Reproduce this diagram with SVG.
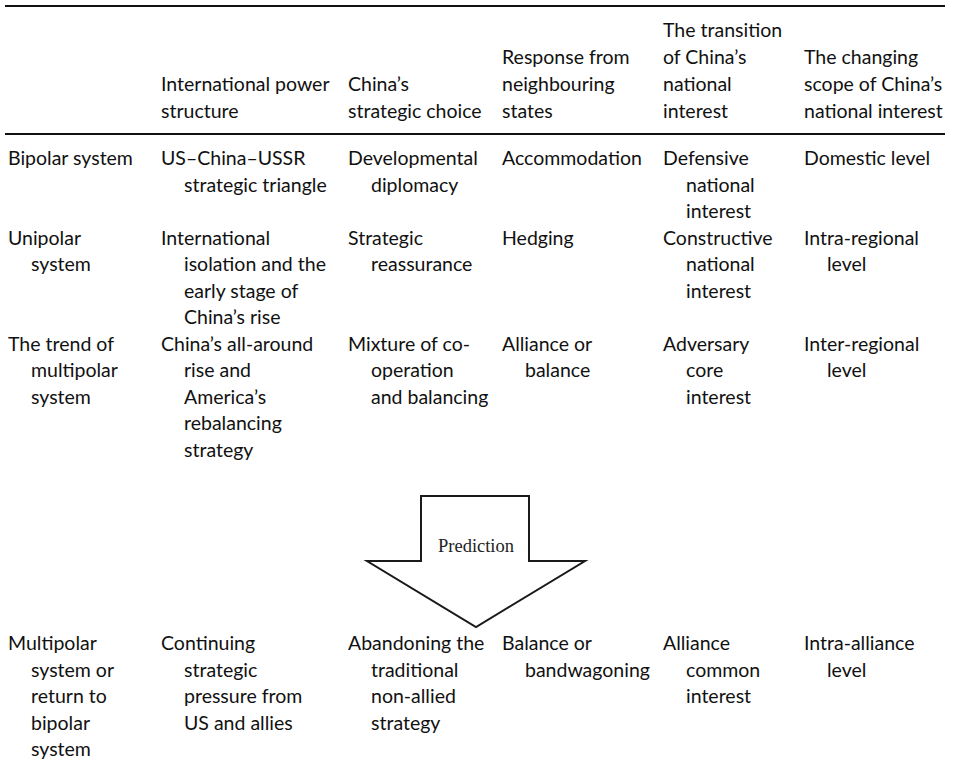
<svg xmlns="http://www.w3.org/2000/svg" width="953" height="770" viewBox="0 0 953 770">
<style>
text{font-family:Lato,"Liberation Sans",sans-serif;font-size:19.5px;fill:#111}
.rule{stroke:#111;stroke-width:2}
.pred{font-family:"Liberation Serif","Times New Roman",serif;font-size:18.5px;fill:#222}
.arrow{fill:#fff;stroke:#1a1a1a;stroke-width:2;stroke-linejoin:miter}
</style>
<rect width="953" height="770" fill="#fff"/>
<g id="rules">
<line class="rule" x1="5" y1="6" x2="945" y2="6"/>
<line class="rule" x1="5" y1="134" x2="945" y2="134"/>
</g>
<g id="header">
<text><tspan x="161" y="91">International power</tspan><tspan x="161" y="118">structure</tspan></text>
<text><tspan x="348" y="91">China’s</tspan><tspan x="348" y="118">strategic choice</tspan></text>
<text><tspan x="502" y="64">Response from</tspan><tspan x="502" y="91">neighbouring</tspan><tspan x="502" y="118">states</tspan></text>
<text><tspan x="663" y="37">The transition</tspan><tspan x="663" y="64">of China’s</tspan><tspan x="663" y="91">national</tspan><tspan x="663" y="118">interest</tspan></text>
<text><tspan x="804" y="64">The changing</tspan><tspan x="804" y="91">scope of China’s</tspan><tspan x="804" y="118">national interest</tspan></text>
</g>
<g id="row1">
<text><tspan x="8" y="165">Bipolar system</tspan></text>
<text><tspan x="161" y="165">US–China–USSR</tspan><tspan x="184" y="191.5">strategic triangle</tspan></text>
<text><tspan x="348" y="165">Developmental</tspan><tspan x="371" y="191.5">diplomacy</tspan></text>
<text><tspan x="502" y="165">Accommodation</tspan></text>
<text><tspan x="663" y="165">Defensive</tspan><tspan x="686" y="191.5">national</tspan><tspan x="686" y="218">interest</tspan></text>
<text><tspan x="804" y="165">Domestic level</tspan></text>
</g>
<g id="row2">
<text><tspan x="8" y="244.5">Unipolar</tspan><tspan x="31" y="271">system</tspan></text>
<text><tspan x="161" y="244.5">International</tspan><tspan x="184" y="271">isolation and the</tspan><tspan x="184" y="297.5">early stage of</tspan><tspan x="184" y="324">China’s rise</tspan></text>
<text><tspan x="348" y="244.5">Strategic</tspan><tspan x="371" y="271">reassurance</tspan></text>
<text><tspan x="502" y="244.5">Hedging</tspan></text>
<text><tspan x="663" y="244.5">Constructive</tspan><tspan x="686" y="271">national</tspan><tspan x="686" y="297.5">interest</tspan></text>
<text><tspan x="804" y="244.5">Intra-regional</tspan><tspan x="827" y="271">level</tspan></text>
</g>
<g id="row3">
<text><tspan x="8" y="350.5">The trend of</tspan><tspan x="31" y="377">multipolar</tspan><tspan x="31" y="403.5">system</tspan></text>
<text><tspan x="161" y="350.5">China’s all-around</tspan><tspan x="184" y="377">rise and</tspan><tspan x="184" y="403.5">America’s</tspan><tspan x="184" y="430">rebalancing</tspan><tspan x="184" y="456.5">strategy</tspan></text>
<text><tspan x="348" y="350.5">Mixture of co-</tspan><tspan x="371" y="377">operation</tspan><tspan x="371" y="403.5">and balancing</tspan></text>
<text><tspan x="502" y="350.5">Alliance or</tspan><tspan x="525" y="377">balance</tspan></text>
<text><tspan x="663" y="350.5">Adversary</tspan><tspan x="686" y="377">core</tspan><tspan x="686" y="403.5">interest</tspan></text>
<text><tspan x="804" y="350.5">Inter-regional</tspan><tspan x="827" y="377">level</tspan></text>
</g>
<g id="prediction-arrow">
<polygon class="arrow" points="421,496 529,496 529,561 585,561 476,627 367,561 421,561"/>
<text class="pred" x="476" y="552" text-anchor="middle">Prediction</text>
</g>
<g id="row4">
<text><tspan x="8" y="650">Multipolar</tspan><tspan x="31" y="676.5">system or</tspan><tspan x="31" y="703">return to</tspan><tspan x="31" y="729.5">bipolar</tspan><tspan x="31" y="756">system</tspan></text>
<text><tspan x="161" y="650">Continuing</tspan><tspan x="184" y="676.5">strategic</tspan><tspan x="184" y="703">pressure from</tspan><tspan x="184" y="729.5">US and allies</tspan></text>
<text><tspan x="348" y="650">Abandoning the</tspan><tspan x="371" y="676.5">traditional</tspan><tspan x="371" y="703">non-allied</tspan><tspan x="371" y="729.5">strategy</tspan></text>
<text><tspan x="502" y="650">Balance or</tspan><tspan x="525" y="676.5">bandwagoning</tspan></text>
<text><tspan x="663" y="650">Alliance</tspan><tspan x="686" y="676.5">common</tspan><tspan x="686" y="703">interest</tspan></text>
<text><tspan x="804" y="650">Intra-alliance</tspan><tspan x="827" y="676.5">level</tspan></text>
</g>
</svg>
